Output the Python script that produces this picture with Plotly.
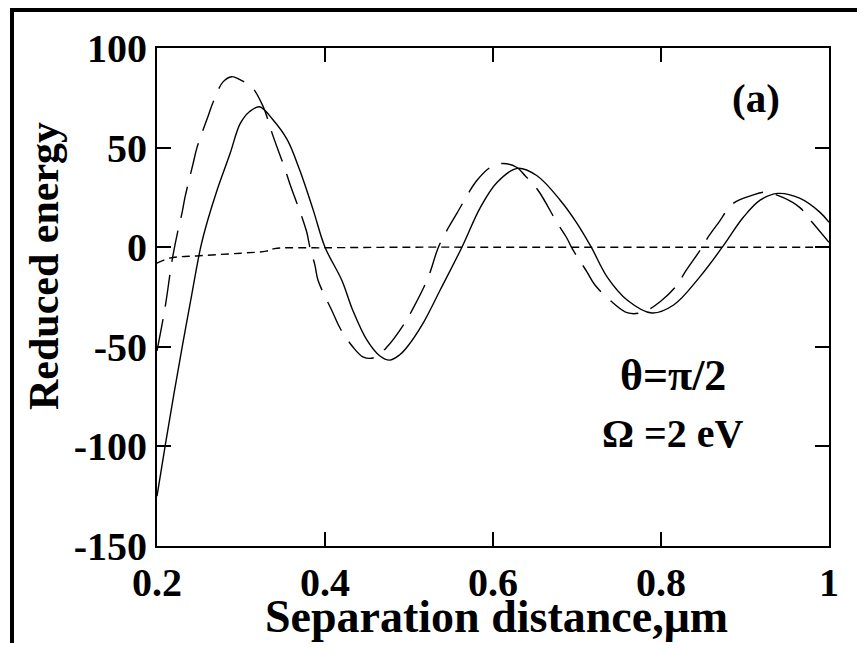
import plotly.graph_objects as go

# ---- data ----
solid_x = [0.200, 0.210, 0.220, 0.230, 0.240, 0.252, 0.260, 0.271, 0.287, 0.299, 0.310, 0.322,
           0.338, 0.355, 0.370, 0.386, 0.400, 0.420, 0.433, 0.450, 0.465, 0.477, 0.489, 0.498,
           0.517, 0.537, 0.563, 0.585, 0.605, 0.629, 0.652, 0.680, 0.700, 0.717, 0.736, 0.760,
           0.789, 0.815, 0.846, 0.873, 0.898, 0.918, 0.939, 0.965, 0.989, 1.000]
solid_y = [-125, -99, -74, -50, -27, 0, 13, 28, 47, 62, 68, 70.5,
           64, 54, 38.6, 18.6, 0, -16.6, -31.6, -46.7, -54.5, -56.7, -54, -50,
           -38, -21.6, 0, 20, 32.6, 39.6, 36, 23.6, 12, 0, -15, -26.6,
           -33, -29, -15, 0, 15, 23.6, 27, 24.6, 17.6, 12.5]

dash_x = [0.200, 0.2095, 0.218, 0.225, 0.230, 0.2333, 0.243, 0.2476, 0.261, 0.267, 0.2786, 0.289,
          0.298, 0.3127, 0.3266, 0.332, 0.338, 0.352, 0.358, 0.3726, 0.3786, 0.382, 0.388, 0.3917,
          0.4095, 0.418, 0.433, 0.445, 0.458, 0.474, 0.495, 0.505, 0.523, 0.535, 0.5465, 0.557,
          0.581, 0.599, 0.612, 0.6286, 0.638, 0.6536, 0.676, 0.688, 0.694, 0.712, 0.7214, 0.743,
          0.7607, 0.7786, 0.800, 0.819, 0.8286, 0.849, 0.856, 0.868, 0.886, 0.908, 0.924, 0.945,
          0.965, 0.980, 1.000]
dash_y = [-52, -30.6, -6.5, 8.5, 17.6, 25, 42, 50, 66, 73, 83, 85.6,
          84.2, 80.5, 70.4, 64, 56, 39.7, 32, 15, 7, 0, -9, -16.6,
          -33, -40.7, -50, -55, -55.5, -50, -38, -30.6, -15, 0, 9.5, 17,
          33.6, 40.7, 42, 40, 36, 28.6, 12.5, 4.5, -0.5, -12.5, -19, -28,
          -33, -32.6, -27, -19, -12.5, 0, 5, 12, 22, 26, 27.6, 25,
          20, 12.5, 2.5]

dot_x = [0.200, 0.215, 0.250, 0.300, 0.330, 0.340, 0.400, 0.500, 0.600, 0.800, 1.000]
dot_y = [-8, -5.5, -4.3, -3, -2, -0.7, -0.3, 0, 0, 0, 0]

x_ticks = [0.2, 0.4, 0.6, 0.8, 1.0]
x_tick_labels = ["0.2", "0.4", "0.6", "0.8", "1"]
y_ticks = [-150, -100, -50, 0, 50, 100]
y_tick_labels = ["-150", "-100", "-50", "0", "50", "100"]

FONT = "Liberation Serif"

fig = go.Figure()
fig.add_trace(go.Scatter(x=dot_x, y=dot_y, mode="lines", line_shape="spline",
                         line=dict(color="black", width=1.4, dash="8px,5px"), showlegend=False))
fig.add_trace(go.Scatter(x=dash_x, y=dash_y, mode="lines", line_shape="spline",
                         line=dict(color="black", width=1.4, dash="32px,13px"), showlegend=False))
fig.add_trace(go.Scatter(x=solid_x, y=solid_y, mode="lines", line_shape="spline",
                         line=dict(color="black", width=1.4), showlegend=False))

axis_common = dict(showgrid=False, zeroline=False, showline=True, linecolor="black", linewidth=2,
                   mirror="ticks", ticks="inside", ticklen=14, tickwidth=1.5, tickcolor="black",
                   tickfont=dict(family=FONT, size=40, color="black", weight="bold"))

fig.update_xaxes(range=[0.2, 1.0], tickvals=x_ticks, ticktext=x_tick_labels, **axis_common)
fig.update_yaxes(range=[-150, 100], tickvals=y_ticks, ticktext=y_tick_labels, **axis_common)

# page pixel -> paper coordinates (plot area spans page x 157..829, y 48..546)
def px_to_paper_x(p):
    return (p - 157) / 672.0

def px_to_paper_y(p):
    return (546 - p) / 498.0

annotations = [
    dict(text="(a)", x=756, y=98, size=41, angle=0),
    dict(text="θ=π/2", x=673, y=375, size=44, angle=0),
    dict(text="Ω =2 eV", x=673, y=433, size=40, angle=0),
    dict(text="Separation distance,μm", x=496, y=616, size=46, angle=0),
    dict(text="Reduced energy", x=44, y=266, size=42, angle=-90),
]
ann_objs = []
for a in annotations:
    ann_objs.append(dict(text=a["text"], xref="paper", yref="paper",
                         x=px_to_paper_x(a["x"]), y=px_to_paper_y(a["y"]),
                         textangle=a["angle"], xanchor="center", yanchor="middle", showarrow=False,
                         font=dict(family=FONT, size=a["size"], color="black", weight="bold")))

FIG_W, FIG_H = 849, 635   # figure sits at page offset (8, 8)

# outer frame (left and top edges only) as thin filled bars, kept inside the figure
shapes = [
    dict(type="rect", xref="paper", yref="paper",
         x0=px_to_paper_x(10), x1=px_to_paper_x(8 + FIG_W),
         y0=px_to_paper_y(12), y1=px_to_paper_y(8),
         fillcolor="black", line=dict(width=0)),
    dict(type="rect", xref="paper", yref="paper",
         x0=px_to_paper_x(10), x1=px_to_paper_x(14),
         y0=px_to_paper_y(8 + FIG_H), y1=px_to_paper_y(8),
         fillcolor="black", line=dict(width=0)),
]

fig.update_layout(width=FIG_W, height=FIG_H, autosize=False,
                  margin=dict(l=149, r=FIG_W - 821, t=40, b=FIG_H - 538),
                  paper_bgcolor="white", plot_bgcolor="white",
                  annotations=ann_objs, shapes=shapes, showlegend=False)

fig.write_html("out.html")
